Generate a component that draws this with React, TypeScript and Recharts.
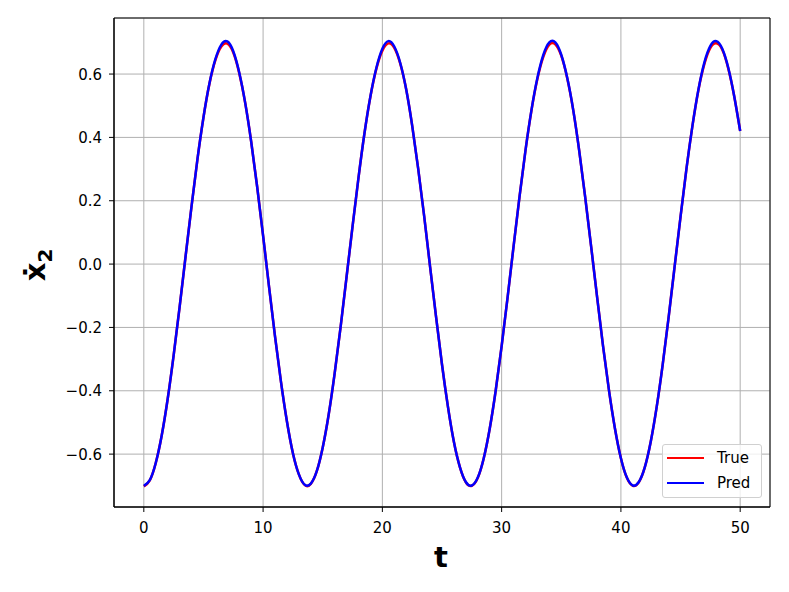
import { LineChart, Line, XAxis, YAxis, CartesianGrid, ReferenceArea } from "recharts";

// time samples (step 0.5)
const T = [
    0, 0.5, 1, 1.5, 2, 2.5, 3, 3.5, 4, 4.5, 5, 5.5, 6, 6.5, 7, 7.5, 8, 8.5, 9, 9.5,
    10, 10.5, 11, 11.5, 12, 12.5, 13, 13.5, 14, 14.5, 15, 15.5, 16, 16.5, 17, 17.5, 18, 18.5, 19, 19.5,
    20, 20.5, 21, 21.5, 22, 22.5, 23, 23.5, 24, 24.5, 25, 25.5, 26, 26.5, 27, 27.5, 28, 28.5, 29, 29.5,
    30, 30.5, 31, 31.5, 32, 32.5, 33, 33.5, 34, 34.5, 35, 35.5, 36, 36.5, 37, 37.5, 38, 38.5, 39, 39.5,
    40, 40.5, 41, 41.5, 42, 42.5, 43, 43.5, 44, 44.5, 45, 45.5, 46, 46.5, 47, 47.5, 48, 48.5, 49, 49.5,
    50,
];

const PRED = [
    -0.700, -0.682, -0.628, -0.541, -0.426, -0.288, -0.136, 0.024, 0.182, 0.332,
    0.463, 0.570, 0.647, 0.693, 0.703, 0.672, 0.605, 0.509, 0.387, 0.245,
    0.090, -0.072, -0.228, -0.372, -0.497, -0.597, -0.664, -0.697, -0.693, -0.654,
    -0.579, -0.475, -0.345, -0.198, -0.040, 0.119, 0.273, 0.413, 0.530, 0.620,
    0.680, 0.704, 0.687, 0.635, 0.551, 0.437, 0.302, 0.153, -0.008, -0.166,
    -0.317, -0.451, -0.562, -0.641, -0.688, -0.699, -0.674, -0.613, -0.520, -0.400,
    -0.259, -0.105, 0.056, 0.213, 0.359, 0.486, 0.588, 0.661, 0.700, 0.700,
    0.661, 0.588, 0.487, 0.359, 0.213, 0.057, -0.103, -0.258, -0.399, -0.519,
    -0.613, -0.674, -0.699, -0.688, -0.642, -0.561, -0.451, -0.318, -0.168, -0.009,
    0.150, 0.302, 0.437, 0.551, 0.637, 0.689, 0.704, 0.680, 0.620, 0.530,
    0.420,
];

// true values only differ a little around the peaks
const TRUE = [
    -0.702, -0.683, -0.628, -0.541, -0.426, -0.288, -0.136, 0.024, 0.182, 0.332,
    0.463, 0.569, 0.644, 0.687, 0.696, 0.668, 0.603, 0.509, 0.387, 0.245,
    0.090, -0.072, -0.228, -0.372, -0.497, -0.597, -0.664, -0.698, -0.694, -0.654,
    -0.579, -0.475, -0.345, -0.198, -0.040, 0.119, 0.273, 0.413, 0.529, 0.617,
    0.674, 0.697, 0.683, 0.633, 0.551, 0.437, 0.302, 0.153, -0.008, -0.166,
    -0.317, -0.451, -0.562, -0.641, -0.689, -0.700, -0.675, -0.613, -0.520, -0.400,
    -0.259, -0.105, 0.056, 0.213, 0.359, 0.485, 0.585, 0.655, 0.693, 0.694,
    0.658, 0.587, 0.487, 0.359, 0.213, 0.057, -0.103, -0.258, -0.399, -0.519,
    -0.613, -0.675, -0.700, -0.689, -0.642, -0.561, -0.451, -0.318, -0.168, -0.009,
    0.150, 0.302, 0.437, 0.550, 0.632, 0.683, 0.697, 0.677, 0.618, 0.530,
    0.420,
];

const X_TICKS = [0, 10, 20, 30, 40, 50];
const Y_TICKS = [-0.6, -0.4, -0.2, 0, 0.2, 0.4, 0.6];

const FONT = '"DejaVu Sans", sans-serif';

const fmtY = (v: number) => v.toFixed(1).replace("-", "\u2212");

function XTick({ x, payload }: any) {
    return (
        <text x={x} y={533} textAnchor="middle" fontSize={15} fontFamily={FONT} fill="#000">
            {payload.value}
        </text>
    );
}

function YTick({ y, payload }: any) {
    return (
        <text x={102} y={y} dy={5.5} textAnchor="end" fontSize={15} fontFamily={FONT} fill="#000">
            {fmtY(payload.value)}
        </text>
    );
}

export default function App() {
    const data = T.map((t, i) => ({ t, truth: TRUE[i], pred: PRED[i] }));

    return (
        <div style={{ position: "absolute", left: 0, top: 0, width: 789, height: 592, background: "#fff", fontFamily: FONT }}>
            <LineChart width={789} height={592} data={data} margin={{ top: 18, right: 19, bottom: 0, left: 0 }}>
                <CartesianGrid stroke="#b0b0b0" strokeWidth={1} />
                <XAxis
                    dataKey="t"
                    type="number"
                    domain={[-2.5, 52.5]}
                    ticks={X_TICKS}
                    allowDataOverflow
                    height={85}
                    tickSize={5}
                    stroke="#000"
                    tick={<XTick />}
                    label={{
                        content: () => (
                            <text x={441} y={567} textAnchor="middle" fontSize={29} fontWeight="bold" fontFamily={FONT} fill="#000">
                                t
                            </text>
                        ),
                    }}
                />
                <YAxis
                    type="number"
                    domain={[-0.767, 0.777]}
                    ticks={Y_TICKS}
                    allowDataOverflow
                    width={114}
                    tickSize={5}
                    stroke="#000"
                    tick={<YTick />}
                    label={{
                        content: () => (
                            <text transform="translate(45,265) rotate(-90)" textAnchor="middle" fontSize={29} fontWeight="bold" fontFamily={FONT} fill="#000">
                                {"\u1E8B"}
                                <tspan fontSize={20} dy={7}>2</tspan>
                            </text>
                        ),
                    }}
                />
                <Line type="natural" dataKey="truth" name="True" stroke="#ff0000" strokeWidth={2.5} dot={false} isAnimationActive={false} />
                <Line type="natural" dataKey="pred" name="Pred" stroke="#0000ff" strokeWidth={2.5} dot={false} isAnimationActive={false} />
                <ReferenceArea x1={-2.5} x2={52.5} y1={-0.767} y2={0.777} fill="none" stroke="#000" strokeWidth={1} ifOverflow="visible" />
            </LineChart>
            <div
                style={{
                    position: "absolute",
                    left: 662,
                    top: 444,
                    width: 98,
                    height: 52,
                    border: "1px solid #d0d0d0",
                    borderRadius: 3,
                    background: "rgba(255,255,255,0.8)",
                    fontSize: 15,
                    color: "#000",
                }}
            >
                {[
                    { name: "True", color: "#ff0000" },
                    { name: "Pred", color: "#0000ff" },
                ].map((s, i) => (
                    <div key={s.name} style={{ position: "absolute", left: 4, top: 4 + i * 25, height: 18, display: "flex", alignItems: "center" }}>
                        <span style={{ display: "inline-block", width: 37, height: 2, background: s.color }} />
                        <span style={{ marginLeft: 13 }}>{s.name}</span>
                    </div>
                ))}
            </div>
        </div>
    );
}
